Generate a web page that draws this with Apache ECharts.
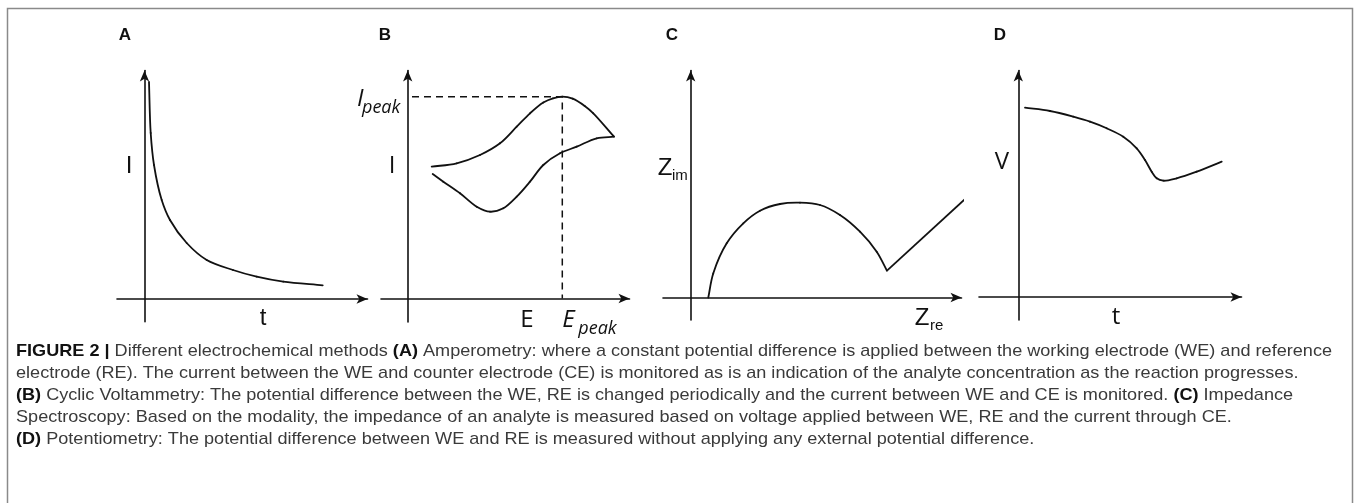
<!DOCTYPE html>
<html><head><meta charset="utf-8">
<script src="https://cdn.jsdelivr.net/npm/echarts@6/dist/echarts.min.js"></script>
<style>html,body{margin:0;padding:0;background:#fff}#c{width:1357px;height:503px}</style>
</head><body><div id="c"></div>
<script>
// ---- Panel A: amperometry (I vs t), arbitrary units ----
const ampT = [0.45, 0.62, 0.95, 1.72, 2.55, 4.22, 6.22, 8.85, 11.22, 13.88, 17.82];
const ampI = [21.7, 16.6, 13.4, 9.9, 7.9, 5.6, 3.9, 2.9, 2.23, 1.73, 1.37];
// ---- Panel B: cyclic voltammetry (I vs E) ----
const cvTopE = [2.40, 4.90, 7.23, 9.23, 10.90, 12.23, 13.56, 14.53, 15.46, 16.50, 17.70, 18.56, 20.63];
const cvTopI = [13.18, 13.52, 14.35, 15.52, 17.18, 18.52, 19.60, 20.02, 20.18, 19.98, 19.25, 18.52, 16.18];
const cvBotE = [20.63, 18.90, 16.90, 15.23, 13.56, 12.23, 10.90, 9.56, 8.23, 6.90, 5.23, 3.56, 2.50];
const cvBotI = [16.18, 16.02, 15.18, 14.52, 13.35, 11.68, 10.18, 9.02, 8.68, 9.18, 10.52, 11.68, 12.45];
// ---- Panel C: impedance (Z_im vs Z_re) ----
const eisRe = [1.76, 2.26, 3.60, 5.26, 6.93, 8.93, 10.93, 12.93, 14.93, 16.93, 18.60, 19.63];
const eisIm = [0.0, 2.42, 5.42, 7.42, 8.68, 9.35, 9.48, 9.25, 8.25, 6.58, 4.58, 2.68];
const tailRe = [19.63, 27.76];
const tailIm = [2.68, 10.15];
// ---- Panel D: potentiometry (V vs t) ----
const potT = [0.67, 3.17, 5.5, 7.17, 8.84, 10.5, 11.84, 12.67, 13.34, 13.84, 14.5, 15.84, 17.84, 20.34];
const potV = [18.93, 18.6, 18.03, 17.53, 16.87, 16.03, 14.87, 13.7, 12.53, 11.87, 11.63, 11.87, 12.53, 13.53];
// ---- texts ----
const panelLetters = ['A', 'B', 'C', 'D'];
const captionLines = [
  '{b|FIGURE 2 |} Different electrochemical methods {b|(A)} Amperometry: where a constant potential difference is applied between the working electrode (WE) and reference',
  'electrode (RE). The current between the WE and counter electrode (CE) is monitored as is an indication of the analyte concentration as the reaction progresses.',
  '{b|(B)} Cyclic Voltammetry: The potential difference between the WE, RE is changed periodically and the current between WE and CE is monitored. {b|(C)} Impedance',
  'Spectroscopy: Based on the modality, the impedance of an analyte is measured based on voltage applied between WE, RE and the current through CE.',
  '{b|(D)} Potentiometry: The potential difference between WE and RE is measured without applying any external potential difference.'
];

const INK = '#111';
const ARIAL = "'Liberation Sans', Arial, sans-serif";
const OPEN = "'Open Sans', 'Noto Sans', sans-serif";
function zip(a, b) { return a.map((v, i) => [v, b[i]]); }

const grids = [
  { left: 117, top: 70.5, width: 250.5, height: 251.2 },
  { left: 381, top: 70.5, width: 248.5, height: 251.5 },
  { left: 663, top: 70.5, width: 298.5, height: 249.5 },
  { left: 979, top: 70.5, width: 262.5, height: 249.5 }
];
const xr = [[-2.75, 22.3], [-2.67, 22.18], [-2.77, 27.08], [-3.93, 22.32]];
const yr = [[-2.27, 22.85], [-2.35, 22.8], [-2.25, 22.7], [-2.3, 22.65]];

function axis(i, r) {
  return {
    type: 'value', gridIndex: i, min: r[0], max: r[1],
    axisLine: { show: true, onZero: true, symbol: ['none', 'arrow'], symbolSize: [7, 11],
      lineStyle: { color: INK, width: 1.6 } },
    axisTick: { show: false }, axisLabel: { show: false }, splitLine: { show: false }
  };
}
function straight(i, data, extra) {
  return Object.assign({
    type: 'line', xAxisIndex: i, yAxisIndex: i, data: data, showSymbol: false, symbol: 'none',
    clip: false, silent: true, animation: false,
    lineStyle: { color: INK, width: 1.8 }
  }, extra || {});
}
// smooth curve through the data points (centripetal Catmull-Rom), positioned by the axes
function smoothCurve(i, xs, ys) {
  const pts = zip(xs, ys);
  return {
    type: 'custom', xAxisIndex: i, yAxisIndex: i, data: pts, encode: { x: 0, y: 1 },
    clip: false, silent: true, animation: false,
    renderItem: function (params, api) {
      const k = params.dataIndex, n = pts.length;
      if (k >= n - 1) return null;
      const P = pts.map(p => api.coord(p));
      const p1 = P[k], p2 = P[k + 1];
      const p0 = k > 0 ? P[k - 1] : [2 * p1[0] - p2[0], 2 * p1[1] - p2[1]];
      const p3 = k + 2 < n ? P[k + 2] : [2 * p2[0] - p1[0], 2 * p2[1] - p1[1]];
      const dist = (a, b) => Math.max(1e-6, Math.sqrt(Math.hypot(a[0] - b[0], a[1] - b[1])));
      const a1 = dist(p0, p1), a2 = dist(p1, p2), a3 = dist(p2, p3);
      const b1 = [0, 1].map(j => (a1 * a1 * p2[j] - a2 * a2 * p0[j] + (2 * a1 * a1 + 3 * a1 * a2 + a2 * a2) * p1[j]) / (3 * a1 * (a1 + a2)));
      const b2 = [0, 1].map(j => (a3 * a3 * p1[j] - a2 * a2 * p3[j] + (2 * a3 * a3 + 3 * a3 * a2 + a2 * a2) * p2[j]) / (3 * a3 * (a3 + a2)));
      return {
        type: 'bezierCurve',
        shape: { x1: p1[0], y1: p1[1], x2: p2[0], y2: p2[1], cpx1: b1[0], cpy1: b1[1], cpx2: b2[0], cpy2: b2[1] },
        style: { stroke: INK, lineWidth: 1.8, fill: null, lineCap: 'round' }
      };
    }
  };
}

// peak of forward scan
let pk = 0;
cvTopI.forEach((v, i) => { if (v > cvTopI[pk]) pk = i; });
const peakE = cvTopE[pk], peakI = cvTopI[pk];

const chart = echarts.init(document.getElementById('c'), null, { renderer: 'canvas' });
chart.setOption({
  backgroundColor: '#fff',
  animation: false,
  grid: grids.map(g => Object.assign({ containLabel: false, outerBoundsMode: 'none' }, g)),
  xAxis: xr.map((r, i) => axis(i, r)),
  yAxis: yr.map((r, i) => axis(i, r)),
  series: [
    smoothCurve(0, ampT, ampI),
    smoothCurve(1, cvTopE, cvTopI),
    smoothCurve(1, cvBotE, cvBotI),
    straight(1, [[0.43, peakI], [peakE, peakI], [peakE, 0]],
      { lineStyle: { color: INK, width: 1.5, type: [7, 5] } }),
    smoothCurve(2, eisRe, eisIm),
    straight(2, zip(tailRe, tailIm)),
    smoothCurve(3, potT, potV)
  ]
});

// ---- annotation texts ----
function txt(x, y, text, size, family, opts) {
  return Object.assign({
    type: 'text', x: x, y: y, silent: true, z: 50,
    style: Object.assign({ text: text, fontSize: size, fontFamily: family, fill: INK,
      textAlign: 'center', textVerticalAlign: 'middle', verticalAlign: 'middle' }, (opts && opts.style) || {})
  }, opts && opts.el || {});
}
const pkPx = chart.convertToPixel({ gridIndex: 1 }, [peakE, peakI]);

const els = [
  { type: 'rect', shape: { x: 7.5, y: 8.5, width: 1345, height: 540 }, style: { fill: 'none', stroke: '#8a8a8a', lineWidth: 1.5 }, silent: true },
  txt(125, 35, panelLetters[0], 17, ARIAL, { style: { fontWeight: 'bold' } }),
  txt(385, 35, panelLetters[1], 17, ARIAL, { style: { fontWeight: 'bold' } }),
  txt(672, 35, panelLetters[2], 17, ARIAL, { style: { fontWeight: 'bold' } }),
  txt(1000, 35, panelLetters[3], 17, ARIAL, { style: { fontWeight: 'bold' } }),
  // A
  txt(129, 166, 'I', 24, ARIAL),
  txt(263, 318, 't', 24, ARIAL),
  // B
  txt(392, 166, 'I', 24, OPEN),
  txt(527, 320, 'E', 24, OPEN),
  txt(pkPx[0], 320, 'E', 24, OPEN, { style: { fontStyle: 'italic', textAlign: 'left' } }),
  txt(pkPx[0] + 16, 329, 'peak', 18, OPEN, { style: { fontStyle: 'italic', textAlign: 'left' } }),
  txt(357, pkPx[1] + 2, 'I', 24, OPEN, { style: { fontStyle: 'italic', textAlign: 'left' } }),
  txt(362, pkPx[1] + 11, 'peak', 18, OPEN, { style: { fontStyle: 'italic', textAlign: 'left' } }),
  // C
  txt(665, 168, 'Z', 24, ARIAL),
  txt(672, 176, 'im', 15, ARIAL, { style: { textAlign: 'left' } }),
  txt(922, 318, 'Z', 24, ARIAL),
  txt(930, 326, 're', 15, ARIAL, { style: { textAlign: 'left' } }),
  // D
  txt(1002, 162, 'V', 24, OPEN),
  txt(1116, 317, 't', 24, OPEN)
];

// ---- caption ----
const CAP_SIZE = 17;
const ctx = document.createElement('canvas').getContext('2d');
function measureRich(str) {
  let w = 0, last = 0, m;
  const re = /\{b\|([^}]*)\}/g;
  while ((m = re.exec(str))) {
    ctx.font = CAP_SIZE + 'px ' + ARIAL; w += ctx.measureText(str.slice(last, m.index)).width;
    ctx.font = 'bold ' + CAP_SIZE + 'px ' + ARIAL; w += ctx.measureText(m[1]).width;
    last = re.lastIndex;
  }
  ctx.font = CAP_SIZE + 'px ' + ARIAL; w += ctx.measureText(str.slice(last)).width;
  return w;
}
const capScale = (1332 - 16) / measureRich(captionLines[0]);
captionLines.forEach((line, i) => {
  els.push({
    type: 'text', x: 16, y: 351 + i * 22, scaleX: capScale, silent: true, z: 50,
    style: { text: line, fontSize: CAP_SIZE, fontFamily: ARIAL, fill: '#3a3a3a',
      textAlign: 'left', textVerticalAlign: 'middle', verticalAlign: 'middle',
      rich: { b: { fontWeight: 'bold', fontSize: CAP_SIZE, fontFamily: ARIAL, fill: '#111' } } }
  });
});
chart.setOption({ graphic: { elements: els } });
</script>
</body></html>
